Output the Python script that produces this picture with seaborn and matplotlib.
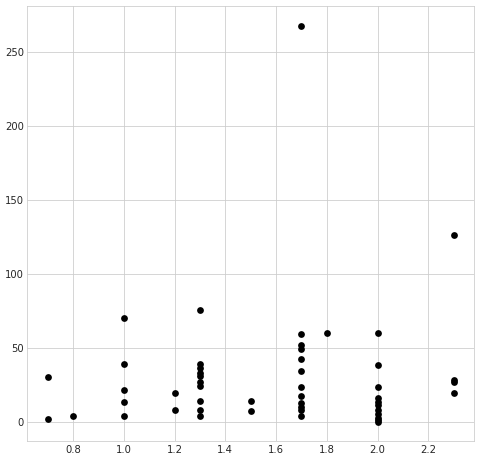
import matplotlib
matplotlib.use("Agg")
import matplotlib.pyplot as plt
import seaborn as sns
import pandas as pd

x_vals = [0.7, 0.7,
          0.8,
          1.0, 1.0, 1.0, 1.0, 1.0,
          1.2, 1.2,
          1.3, 1.3, 1.3, 1.3, 1.3, 1.3, 1.3, 1.3, 1.3, 1.3,
          1.5, 1.5,
          1.7, 1.7, 1.7, 1.7, 1.7, 1.7, 1.7, 1.7, 1.7, 1.7, 1.7, 1.7,
          1.8,
          2.0, 2.0, 2.0, 2.0, 2.0, 2.0, 2.0, 2.0, 2.0, 2.0, 2.0,
          2.3, 2.3, 2.3, 2.3]
y_vals = [30, 2,
          4,
          70, 39, 21.5, 13.5, 4,
          19.5, 8,
          75.5, 39, 36, 33, 31, 27, 24, 14, 8, 3.5,
          14, 7,
          268, 59.5, 51.5, 49, 42.5, 34.5, 23.5, 17.5, 12.5, 10, 7.5, 3.5,
          60,
          60, 38.5, 23.5, 16, 13.5, 11, 8, 5, 2.5, 1, 0,
          126, 28, 26.5, 19.5]

df = pd.DataFrame({"x": x_vals, "y": y_vals})

sns.set_style("whitegrid")
fig = plt.figure(figsize=(480/72, 461/72), dpi=72)
ax = fig.add_axes([27.3/480, (461-441.3)/461, (474-27.3)/480, (441.3-6)/461])
sns.scatterplot(data=df, x="x", y="y", color="black", s=46, linewidth=0, ax=ax)
ax.set_xlabel("")
ax.set_ylabel("")
ax.set_xticks([0.8, 1.0, 1.2, 1.4, 1.6, 1.8, 2.0, 2.2])
ax.set_yticks([0, 50, 100, 150, 200, 250])
ax.tick_params(labelsize=10, colors="#262626", length=0)
for s in ax.spines.values():
    s.set_color("#cccccc")
fig.savefig("out.png", dpi=72)
